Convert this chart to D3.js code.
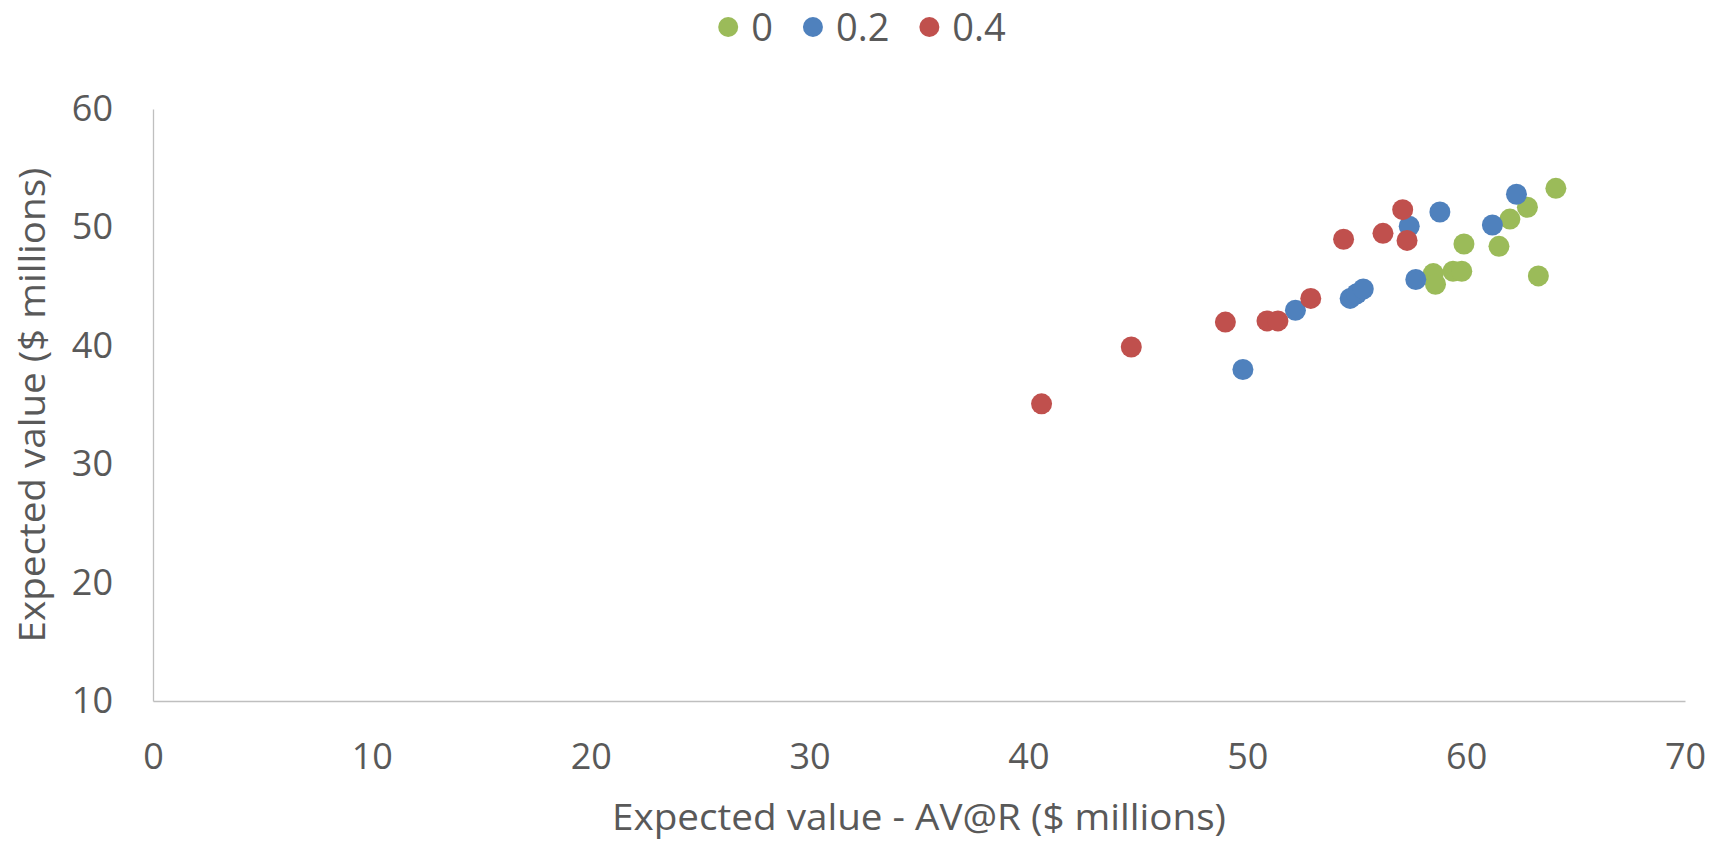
<!DOCTYPE html>
<html>
<head>
<meta charset="utf-8">
<script src="https://cdn.jsdelivr.net/npm/d3@7"></script>
<style>
  html, body { margin: 0; padding: 0; background: #ffffff; }
  svg { display: block; }
  text { font-family: "Open Sans", "Noto Sans", sans-serif; fill: #595959; }
</style>
</head>
<body>
<svg id="chart" width="1724" height="845"></svg>
<script>
// Series labels (risk-aversion weight) and colours
const seriesNames = ["0", "0.2", "0.4"];
const seriesColors = ["#9BBB59", "#4F81BD", "#C0504D"];

// Expected value - AV@R ($ millions)
const xSeries0 = [64.1, 62.8, 62.0, 59.9, 61.5, 58.5, 58.6, 59.4, 59.8, 63.3];
const xSeries02 = [49.8, 52.2, 54.7, 55.0, 55.3, 57.4, 57.7, 58.8, 61.2, 62.3];
const xSeries04 = [40.6, 44.7, 49.0, 50.9, 51.4, 52.9, 54.4, 56.2, 57.1, 57.3];

// Expected value ($ millions)
const ySeries0 = [53.3, 51.7, 50.7, 48.6, 48.4, 46.1, 45.2, 46.3, 46.3, 45.9];
const ySeries02 = [38.0, 43.0, 44.0, 44.4, 44.8, 50.1, 45.6, 51.3, 50.2, 52.8];
const ySeries04 = [35.1, 39.9, 42.0, 42.1, 42.1, 44.0, 49.0, 49.5, 51.5, 48.9];

// Axis ticks and titles
const xTicks = [0, 10, 20, 30, 40, 50, 60, 70];
const yTicks = [10, 20, 30, 40, 50, 60];
const xTitle = "Expected value - AV@R ($ millions)";
const yTitle = "Expected value ($ millions)";

const xs = [xSeries0, xSeries02, xSeries04];
const ys = [ySeries0, ySeries02, ySeries04];

const svg = d3.select("#chart");

const x = d3.scaleLinear().domain([0, 70]).range([153, 1685]);
const y = d3.scaleLinear().domain([10, 60]).range([701, 109]);

const axisColor = "#BFBFBF";

// X axis
const gx = svg.append("g")
  .attr("transform", `translate(0,${y(10)})`)
  .call(d3.axisBottom(x).tickValues(xTicks).tickSize(0).tickSizeOuter(0).tickPadding(42).tickFormat(d3.format("d")));
gx.select(".domain").attr("stroke", axisColor).attr("stroke-width", 1.3);
gx.selectAll("text").attr("font-size", 36).attr("font-family", null).attr("fill", "#595959");

// Y axis
const gy = svg.append("g")
  .attr("transform", `translate(${x(0)},0)`)
  .call(d3.axisLeft(y).tickValues(yTicks).tickSize(0).tickSizeOuter(0).tickPadding(40).tickFormat(d3.format("d")));
gy.select(".domain").attr("stroke", axisColor).attr("stroke-width", 1.3);
gy.selectAll("text").attr("font-size", 36).attr("font-family", null).attr("fill", "#595959");

// Axis titles
svg.append("text")
  .attr("x", 919).attr("y", 830)
  .attr("text-anchor", "middle")
  .attr("font-size", 37)
  .attr("textLength", 614)
  .attr("lengthAdjust", "spacingAndGlyphs")
  .text(xTitle);

svg.append("text")
  .attr("transform", "translate(45,405) rotate(-90)")
  .attr("text-anchor", "middle")
  .attr("font-size", 37)
  .attr("textLength", 475)
  .attr("lengthAdjust", "spacingAndGlyphs")
  .text(yTitle);

// Scatter points
const plot = svg.append("g");
seriesNames.forEach((name, i) => {
  const pts = xs[i].map((v, j) => ({ x: v, y: ys[i][j] }));
  plot.append("g")
    .attr("fill", seriesColors[i])
    .selectAll("circle")
    .data(pts)
    .join("circle")
    .attr("cx", d => x(d.x))
    .attr("cy", d => y(d.y))
    .attr("r", 10.5);
});

// Legend, centred above the chart
const legend = svg.append("g");
let cursor = 0;
seriesNames.forEach((name, i) => {
  const item = legend.append("g").attr("transform", `translate(${cursor},0)`);
  item.append("circle").attr("cx", 10).attr("cy", 0).attr("r", 10).attr("fill", seriesColors[i]);
  const t = item.append("text")
    .attr("x", 33).attr("y", 0).attr("dy", "0.36em")
    .attr("font-size", 38)
    .text(name);
  cursor += 33 + t.node().getComputedTextLength() + 30;
});
const legendWidth = cursor - 30;
legend.attr("transform", `translate(${862 - legendWidth / 2},27)`);
</script>
</body>
</html>
